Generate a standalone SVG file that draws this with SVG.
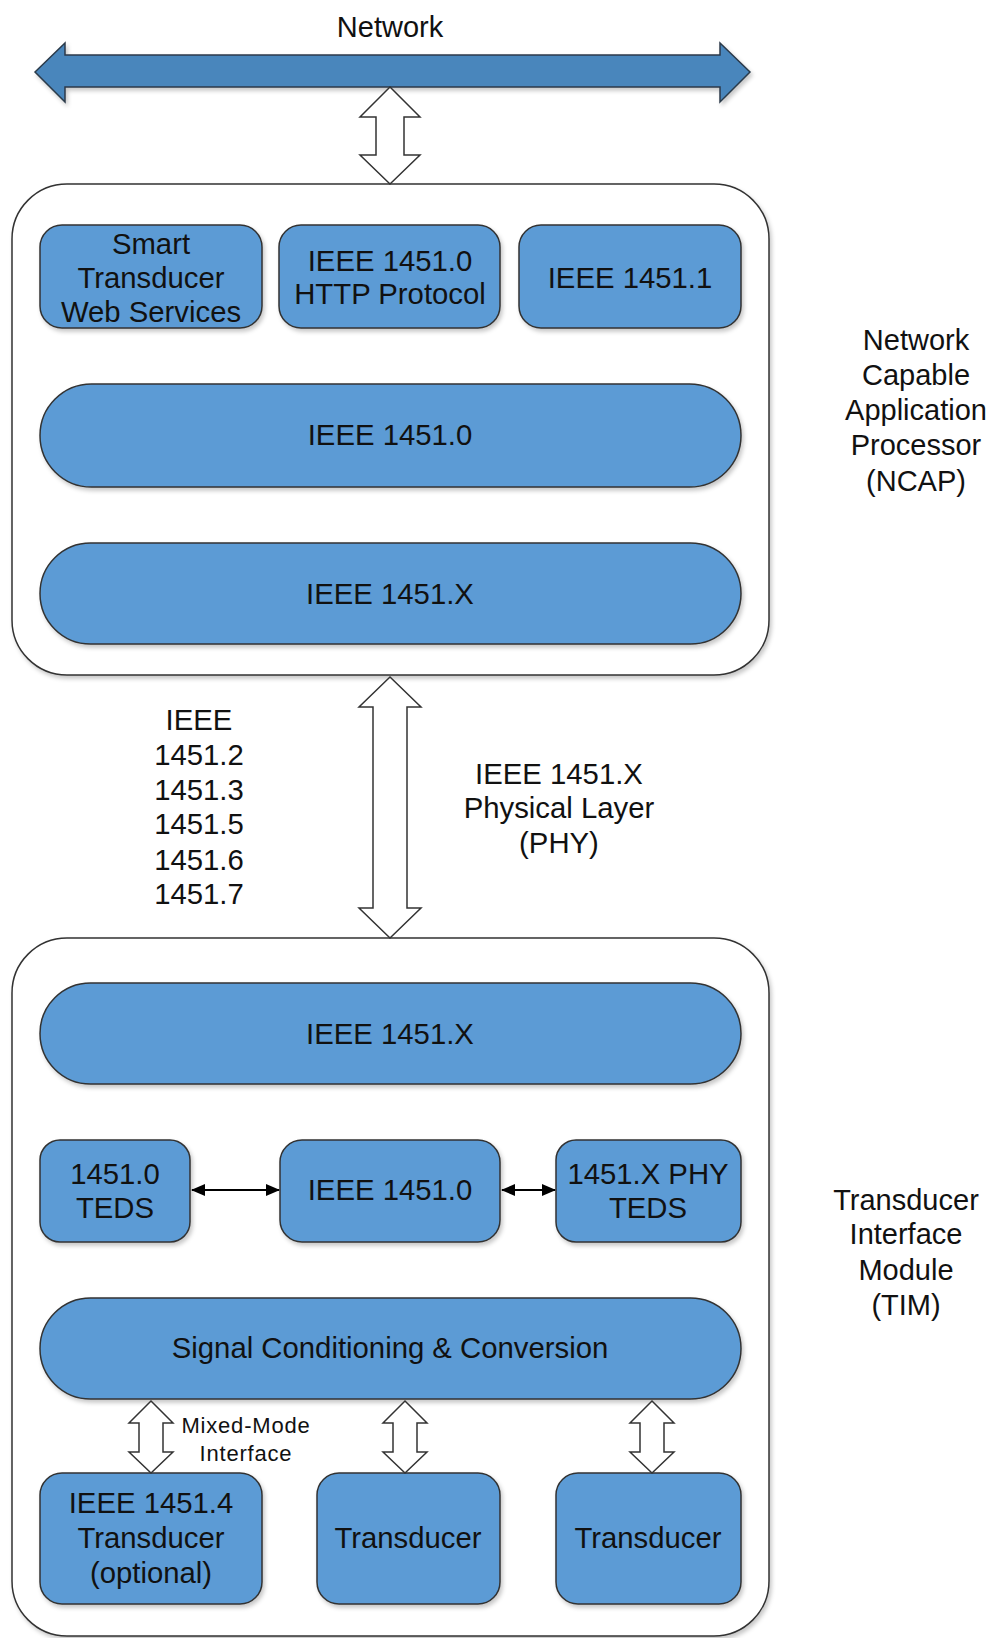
<svg xmlns="http://www.w3.org/2000/svg" width="991" height="1638" viewBox="0 0 991 1638">
  <style>
    text { font-family: "Liberation Sans", Arial, sans-serif; fill: #111; text-anchor: middle; }
    .lbl { font-size: 29.3px; }
    .side { font-size: 29px; }
    .small { font-size: 22px; letter-spacing: 0.8px; }
    .frame { fill: #fff; stroke: #333; stroke-width: 1.5; }
    .blk { fill: #5b9bd5; stroke: #333; stroke-width: 1.5; }
    .hollow { fill: #fff; stroke: #333; stroke-width: 1.5; stroke-linejoin: miter; }
    .bus { fill: #4a86bc; stroke: #2b3a4a; stroke-width: 1.5; }
    .link { fill: none; stroke: #000; stroke-width: 2; }
  </style>
  <defs>
    <filter id="shadow" x="-10%" y="-10%" width="120%" height="130%">
      <feDropShadow dx="2" dy="3" stdDeviation="2" flood-color="#000" flood-opacity="0.22"/>
    </filter>
    <marker id="tip" viewBox="0 0 14 12" refX="13" refY="6" markerWidth="14" markerHeight="12" markerUnits="userSpaceOnUse" orient="auto-start-reverse">
      <path d="M0,0 L14,6 L0,12 Z" fill="#000"/>
    </marker>
  </defs>

  <!-- network bus -->
  <g id="network">
    <path class="bus" filter="url(#shadow)" d="M35,72 L65,43 L65,55 L720,55 L720,43 L750,72 L720,102 L720,87 L65,87 L65,102 Z"/>
    <text class="side" x="390" y="37">Network</text>
  </g>

  <!-- NCAP -->
  <g id="ncap">
    <rect class="frame" filter="url(#shadow)" x="12" y="184" width="757" height="491" rx="55"/>
  </g>
  <g id="stws">
    <rect class="blk" filter="url(#shadow)" x="40" y="225" width="222" height="103" rx="22"/>
    <text class="lbl" x="151" y="254">Smart</text>
    <text class="lbl" x="151" y="288">Transducer</text>
    <text class="lbl" x="151" y="322">Web Services</text>
  </g>
  <g id="http">
    <rect class="blk" filter="url(#shadow)" x="279" y="225" width="221" height="103" rx="22"/>
    <text class="lbl" x="390" y="271">IEEE 1451.0</text>
    <text class="lbl" x="390" y="304">HTTP Protocol</text>
  </g>
  <g id="ieee14511">
    <rect class="blk" filter="url(#shadow)" x="519" y="225" width="222" height="103" rx="22"/>
    <text class="lbl" x="630" y="288">IEEE 1451.1</text>
  </g>
  <g id="ncap-14510">
    <rect class="blk" filter="url(#shadow)" x="40" y="384" width="701" height="103" rx="51.5"/>
    <text class="lbl" x="390" y="445">IEEE 1451.0</text>
  </g>
  <g id="ncap-1451x">
    <rect class="blk" filter="url(#shadow)" x="40" y="543" width="701" height="101" rx="50.5"/>
    <text class="lbl" x="390" y="604">IEEE 1451.X</text>
  </g>
  <g id="ncap-label">
    <text class="side" x="916" y="350">Network</text>
    <text class="side" x="916" y="385">Capable</text>
    <text class="side" x="916" y="420">Application</text>
    <text class="side" x="916" y="455">Processor</text>
    <text class="side" x="916" y="491">(NCAP)</text>
  </g>

  <!-- PHY labels -->
  <g id="phy-list">
    <text class="lbl" x="199" y="730">IEEE</text>
    <text class="lbl" x="199" y="765">1451.2</text>
    <text class="lbl" x="199" y="800">1451.3</text>
    <text class="lbl" x="199" y="834">1451.5</text>
    <text class="lbl" x="199" y="870">1451.6</text>
    <text class="lbl" x="199" y="904">1451.7</text>
  </g>
  <g id="phy-label">
    <text class="lbl" x="559" y="784">IEEE 1451.X</text>
    <text class="lbl" x="559" y="818">Physical Layer</text>
    <text class="lbl" x="559" y="853">(PHY)</text>
  </g>

  <!-- TIM -->
  <g id="tim">
    <rect class="frame" filter="url(#shadow)" x="12" y="938" width="757" height="698" rx="55"/>
  </g>
  <g id="tim-1451x">
    <rect class="blk" filter="url(#shadow)" x="40" y="983" width="701" height="101" rx="50.5"/>
    <text class="lbl" x="390" y="1044">IEEE 1451.X</text>
  </g>
  <g id="teds">
    <rect class="blk" filter="url(#shadow)" x="40" y="1140" width="150" height="102" rx="20"/>
    <text class="lbl" x="115" y="1184">1451.0</text>
    <text class="lbl" x="115" y="1218">TEDS</text>
  </g>
  <g id="tim-14510">
    <rect class="blk" filter="url(#shadow)" x="280" y="1140" width="220" height="102" rx="22"/>
    <text class="lbl" x="390" y="1200">IEEE 1451.0</text>
  </g>
  <g id="phy-teds">
    <rect class="blk" filter="url(#shadow)" x="556" y="1140" width="185" height="102" rx="20"/>
    <text class="lbl" x="648" y="1184">1451.X PHY</text>
    <text class="lbl" x="648" y="1218">TEDS</text>
  </g>
  <g id="signal">
    <rect class="blk" filter="url(#shadow)" x="40" y="1298" width="701" height="101" rx="50.5"/>
    <text class="lbl" x="390" y="1358">Signal Conditioning &amp; Conversion</text>
  </g>
  <g id="xdcr-14514">
    <rect class="blk" filter="url(#shadow)" x="40" y="1473" width="222" height="131" rx="22"/>
    <text class="lbl" x="151" y="1513">IEEE 1451.4</text>
    <text class="lbl" x="151" y="1548">Transducer</text>
    <text class="lbl" x="151" y="1583">(optional)</text>
  </g>
  <g id="xdcr-2">
    <rect class="blk" filter="url(#shadow)" x="317" y="1473" width="183" height="131" rx="22"/>
    <text class="lbl" x="408" y="1548">Transducer</text>
  </g>
  <g id="xdcr-3">
    <rect class="blk" filter="url(#shadow)" x="556" y="1473" width="185" height="131" rx="22"/>
    <text class="lbl" x="648" y="1548">Transducer</text>
  </g>
  <g id="tim-label">
    <text class="side" x="906" y="1210">Transducer</text>
    <text class="side" x="906" y="1244">Interface</text>
    <text class="side" x="906" y="1280">Module</text>
    <text class="side" x="906" y="1315">(TIM)</text>
  </g>

  <!-- connectors -->
  <g id="connectors">
    <path class="hollow" d="M390,87 L420,117 L404,117 L404,155 L420,155 L390,184 L360,155 L376,155 L376,117 L360,117 Z"/>
    <path class="hollow" d="M390,677 L421,707 L407,707 L407,908 L421,908 L390,938 L359,908 L373,908 L373,707 L359,707 Z"/>
    <path class="link" marker-start="url(#tip)" marker-end="url(#tip)" d="M192,1190 L279,1190"/>
    <path class="link" marker-start="url(#tip)" marker-end="url(#tip)" d="M502,1190 L555,1190"/>
    <path class="hollow" d="M151,1401 L173,1423 L163,1423 L163,1452 L173,1452 L151,1473 L129,1452 L139,1452 L139,1423 L129,1423 Z"/>
    <path class="hollow" d="M405,1401 L427,1423 L417,1423 L417,1452 L427,1452 L405,1473 L383,1452 L393,1452 L393,1423 L383,1423 Z"/>
    <path class="hollow" d="M652,1401 L674,1423 L664,1423 L664,1452 L674,1452 L652,1473 L630,1452 L640,1452 L640,1423 L630,1423 Z"/>
    <text class="small" x="246" y="1433">Mixed-Mode</text>
    <text class="small" x="246" y="1461">Interface</text>
  </g>
</svg>
